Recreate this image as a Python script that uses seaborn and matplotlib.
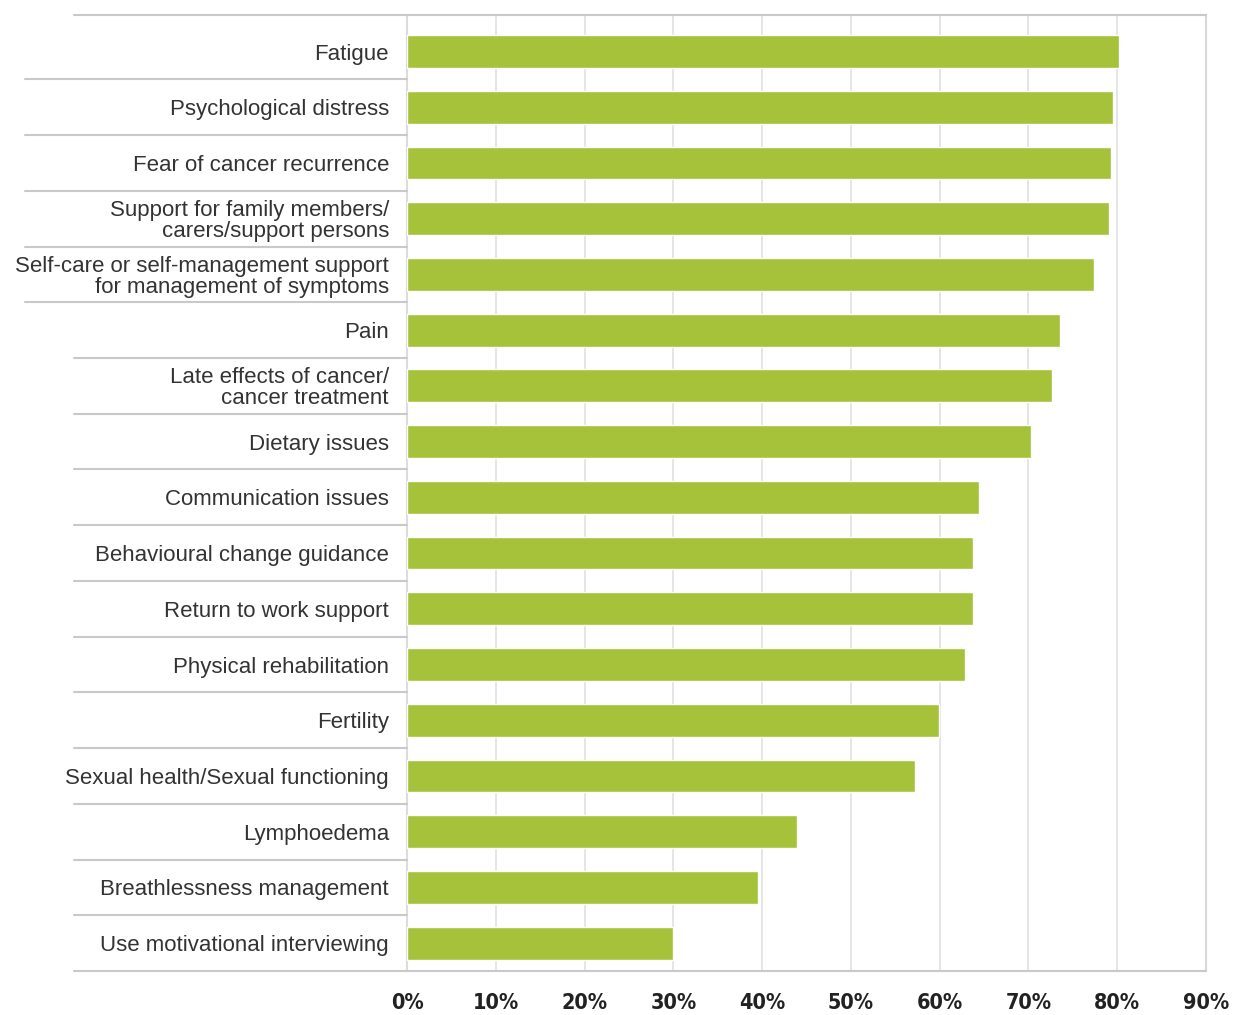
import matplotlib
matplotlib.use("Agg")
import matplotlib.pyplot as plt
import matplotlib.transforms as mtransforms
from matplotlib.ticker import MultipleLocator, FuncFormatter
import seaborn as sns
import pandas as pd

categories = [
    "Fatigue",
    "Psychological distress",
    "Fear of cancer recurrence",
    "Support for family members/\ncarers/support persons",
    "Self-care or self-management support\nfor management of symptoms",
    "Pain",
    "Late effects of cancer/\ncancer treatment",
    "Dietary issues",
    "Communication issues",
    "Behavioural change guidance",
    "Return to work support",
    "Physical rehabilitation",
    "Fertility",
    "Sexual health/Sexual functioning",
    "Lymphoedema",
    "Breathlessness management",
    "Use motivational interviewing",
]
values = [80.2, 79.5, 79.3, 79.1, 77.4, 73.6, 72.6, 70.3, 64.4, 63.8, 63.7, 62.9,
          59.9, 57.2, 43.9, 39.5, 30.0]

df = pd.DataFrame({"need": categories, "pct": values})

sns.set_theme(style="white")
plt.rcParams["font.family"] = ["Liberation Sans", "DejaVu Sans"]

fig = plt.figure(figsize=(12.49, 10.15), dpi=100)
ax = fig.add_axes([407 / 1249, 1 - 971 / 1015, (1206 - 407) / 1249, (971 - 15) / 1015])

sns.barplot(data=df, x="pct", y="need", orient="h", color="#a6c23a",
            saturation=1, width=0.59, ax=ax, zorder=3)

n = len(categories)
top_edge = -0.655  # table header line sits a little above the first row
ax.set_xlim(0, 90)
ax.set_ylim(n - 0.5, top_edge)
ax.xaxis.set_major_locator(MultipleLocator(10))
ax.xaxis.set_major_formatter(FuncFormatter(lambda v, p: f"{v:.0f}%"))
ax.set_xlabel("")
ax.set_ylabel("")

# vertical gridlines
ax.grid(axis="x", color="#e3e3e3", linewidth=1.3, zorder=0)
ax.grid(axis="y", visible=False)

for side in ("top", "bottom"):
    ax.spines[side].set_visible(False)
ax.spines["left"].set_color("#dcdcdc")
ax.spines["left"].set_linewidth(1.5)
ax.spines["right"].set_color("#d8d8d8")
ax.spines["right"].set_linewidth(1.5)

ax.tick_params(axis="x", length=0, pad=16, labelsize=15.5, labelcolor="#222222")
for lbl in ax.get_xticklabels():
    lbl.set_fontweight("bold")
    lbl.set_fontfamily(["DejaVu Sans"])
    lbl.set_fontstretch("condensed")
ax.tick_params(axis="y", length=0, pad=13, labelsize=16, labelcolor="#333333")
for lbl in ax.get_yticklabels():
    lbl.set_linespacing(1.0)

# table-style row separators reaching into the label column
trans = mtransforms.blended_transform_factory(ax.transAxes, ax.transData)
wide_left = -0.478
narrow_left = -0.417
line_kw = dict(transform=trans, color="#c9c9c9", linewidth=1.5, clip_on=False, zorder=4)
ax.plot([narrow_left, 1.0], [top_edge, top_edge], **line_kw)
ax.plot([narrow_left, 1.0], [n - 0.5, n - 0.5], **line_kw)
for i in range(1, n):
    left = wide_left if i <= 5 else narrow_left
    ax.plot([left, 0.0], [i - 0.5, i - 0.5], **line_kw)

fig.savefig("out.png", dpi=100)
